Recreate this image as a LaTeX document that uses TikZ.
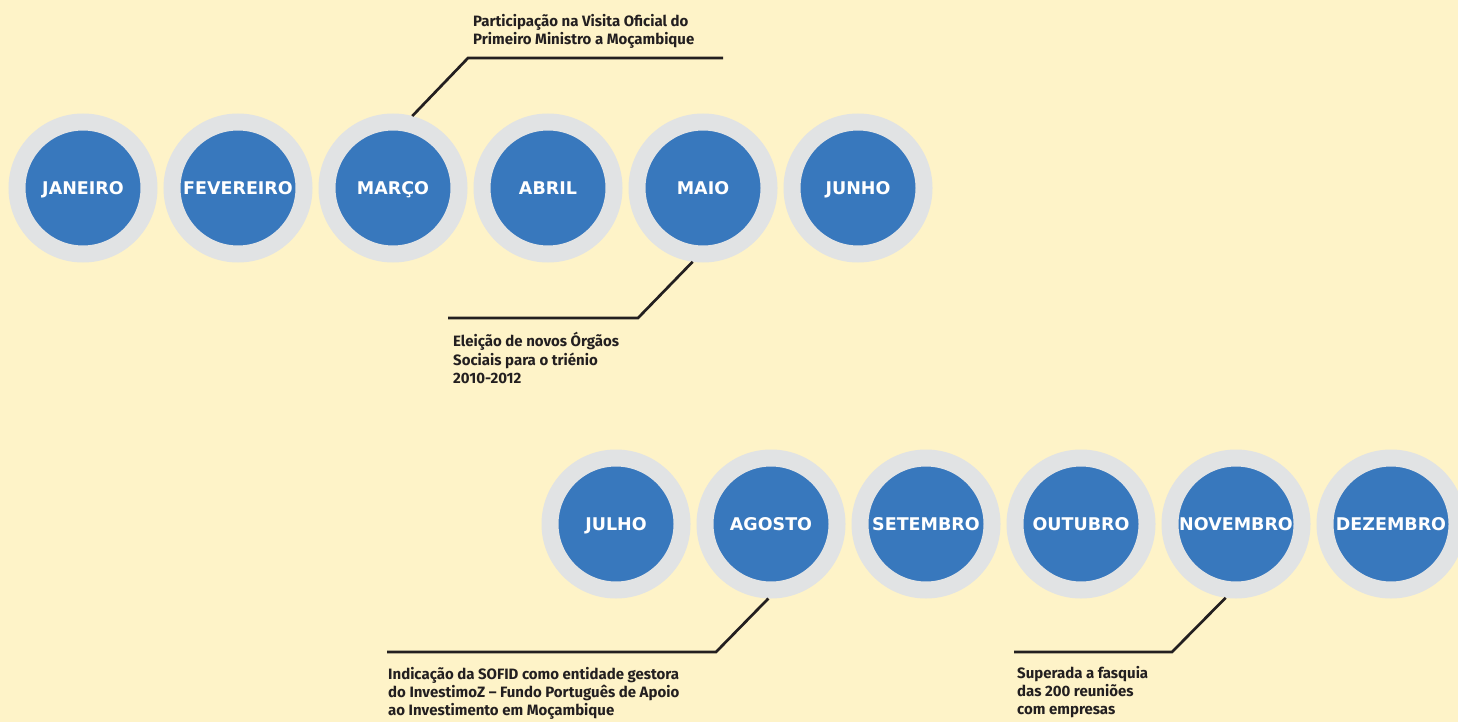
\documentclass[tikz,border=0pt]{standalone}
\usepackage{fontspec}
\setmainfont{Fira Sans}
\newfontfamily\mesfont{DejaVu Sans}
\definecolor{fundo}{HTML}{FEF3C8}
\definecolor{aro}{HTML}{E1E3E4}
\definecolor{azul}{HTML}{3878BD}
\definecolor{traco}{HTML}{231F20}
\begin{document}
\begin{tikzpicture}[x=1pt, y=-1pt,
    mes/.style={circle, fill=azul, draw=aro, line width=17pt, minimum size=132pt, inner sep=0pt,
      text=white, font=\mesfont\bfseries\fontsize{17.5}{17.5}\selectfont, text height=12.6pt, text depth=0pt},
    nota/.style={anchor=north west, align=left, inner sep=0pt, text=traco,
      font=\bfseries\fontsize{15}{18.3}\selectfont},
    fio/.style={draw=traco, line width=2.7pt}]
  \fill[fundo] (0,0) rectangle (1458,722);
  \useasboundingbox (0,0) rectangle (1458,722);
  % primeiro semestre
  \node[mes] (jan) at (83,188) {JANEIRO};
  \node[mes] (fev) at (238,188) {FEVEREIRO};
  \node[mes] (mar) at (393,188) {MARÇO};
  \node[mes] (abr) at (548,188) {ABRIL};
  \node[mes] (mai) at (703,188) {MAIO};
  \node[mes] (jun) at (858,188) {JUNHO};
  % segundo semestre
  \node[mes] (jul) at (616,524) {JULHO};
  \node[mes] (ago) at (771,524) {AGOSTO};
  \node[mes] (set) at (926,524) {SETEMBRO};
  \node[mes] (out) at (1081,524) {OUTUBRO};
  \node[mes] (nov) at (1236,524) {NOVEMBRO};
  \node[mes] (dez) at (1391,524) {DEZEMBRO};
  % marco
  \node[nota] (notamar) at (473,13.2) {\strut Participação na Visita Oficial do\\Primeiro Ministro a Moçambique};
  \coordinate (mark) at (468,58);
  \coordinate (mare) at (723,58);
  \draw[fio] (mar.75) -- (mark) -- (mare);
  % maio
  \node[nota] (notamai) at (453,332.2) {\strut Eleição de novos Órgãos\\Sociais para o triénio\\2010-2012};
  \coordinate (maik) at (638,318);
  \coordinate (maie) at (448,318);
  \draw[fio] (mai.-98) -- (maik) -- (maie);
  % agosto
  \node[nota] (notaago) at (388,666.2) {\strut Indicação da SOFID como entidade gestora\\do InvestimoZ – Fundo Português de Apoio\\ao Investimento em Moçambique};
  \coordinate (agok) at (716,652);
  \coordinate (agoe) at (387,652);
  \draw[fio] (ago.-92) -- (agok) -- (agoe);
  % novembro
  \node[nota] (notanov) at (1017,665.2) {\strut Superada a fasquia\\das 200 reuniões\\com empresas};
  \coordinate (novk) at (1172,652);
  \coordinate (nove) at (1014,652);
  \draw[fio] (nov.-98) -- (novk) -- (nove);
\end{tikzpicture}
\end{document}
